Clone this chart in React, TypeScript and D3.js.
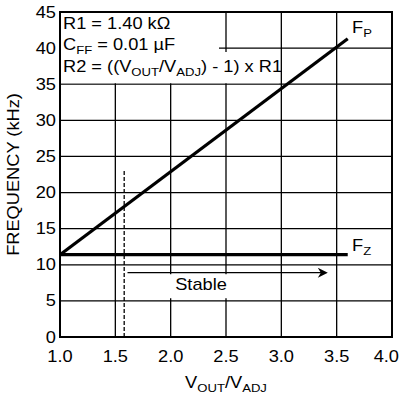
import * as d3 from "d3";
import type { ReactNode } from "react";

// Axis ticks
const xTicks = [1.0, 1.5, 2.0, 2.5, 3.0, 3.5, 4.0];
const yTicks = [0, 5, 10, 15, 20, 25, 30, 35, 40, 45];

// Series: pole and zero frequency vs VOUT/VADJ
const fpRatio = [1.0, 3.6];
const fpFreq = [11.4, 41.3];
const fzRatio = [1.0, 3.6];
const fzFreq = [11.4, 11.4];

// Stability limit and arrow
const stableLimit = 1.58;
const stableLimitTop = 23;
const stableArrow = { from: 1.61, to: 3.42, at: 8.9 };

const W = 400;
const H = 400;
const m = { top: 12, right: 8, bottom: 63, left: 60 };
const font = "Liberation Sans, Arial, sans-serif";
const stretch = 1.14; // the reference type is a bit wider than Arial

// text with the horizontal stretch applied
function T(props: {
  x: number;
  y: number;
  anchor?: string;
  size?: number;
  rotate?: number;
  children: ReactNode;
}) {
  const { x, y, anchor = "start", size = 16, rotate = 0, children } = props;
  return (
    <text
      transform={`translate(${x},${y}) rotate(${rotate}) scale(${stretch},1)`}
      textAnchor={anchor}
      fontSize={size}
      fill="#000"
    >
      {children}
    </text>
  );
}

// subscript, optionally followed by normal text back on the baseline
const Sub = ({ s, after }: { s: string; after?: string }) => (
  <>
    <tspan fontSize={11.5} dy={4}>
      {s}
    </tspan>
    {after ? <tspan dy={-4}>{after}</tspan> : null}
  </>
);

export default function App() {
  const x = d3.scaleLinear().domain([1, 4]).range([m.left, W - m.right]);
  const y = d3.scaleLinear().domain([0, 45]).range([H - m.bottom, m.top]);

  const line = d3
    .line<[number, number]>()
    .x((d) => x(d[0]))
    .y((d) => y(d[1]));

  const fp = fpRatio.map((r, i) => [r, fpFreq[i]] as [number, number]);
  const fz = fzRatio.map((r, i) => [r, fzFreq[i]] as [number, number]);

  const ax = x(stableArrow.to);
  const ay = y(stableArrow.at);

  return (
    <div style={{ position: "fixed", left: 0, top: 0 }}>
      <svg width={W} height={H} style={{ display: "block", background: "#fff" }} fontFamily={font}>
        {/* grid */}
        <g stroke="#000" strokeWidth={1.3}>
          {xTicks.slice(1, -1).map((t) => (
            <line key={"gx" + t} x1={x(t)} x2={x(t)} y1={y(0)} y2={y(45)} />
          ))}
          {yTicks.slice(1, -1).map((t) => (
            <line key={"gy" + t} x1={x(1)} x2={x(4)} y1={y(t)} y2={y(t)} />
          ))}
        </g>

        {/* white backgrounds for the annotations */}
        <rect x={x(1)} y={y(45)} width={219 - x(1)} height={52 - y(45)} fill="#fff" />
        <rect x={x(1)} y={52} width={279 - x(1)} height={y(35) - 1 - 52} fill="#fff" />
        <rect x={165} y={ay + 1.5} width={70} height={24} fill="#fff" />

        {/* legend text */}
        <T x={63} y={29}>R1 = 1.40 kΩ</T>
        <T x={63} y={50}>
          C<Sub s="FF" after=" = 0.01 µF" />
        </T>
        <T x={63} y={72}>
          R2 = ((V<Sub s="OUT" after="/V" />
          <Sub s="ADJ" after=") - 1) x R1" />
        </T>

        {/* stability limit */}
        <line
          x1={x(stableLimit)}
          x2={x(stableLimit)}
          y1={y(0)}
          y2={y(stableLimitTop)}
          stroke="#000"
          strokeWidth={1.3}
          strokeDasharray="4,2"
        />
        <line x1={x(stableArrow.from)} x2={ax - 4} y1={ay} y2={ay} stroke="#000" strokeWidth={1.3} />
        <path d={`M${ax},${ay} L${ax - 10},${ay - 5} L${ax - 7},${ay} L${ax - 10},${ay + 5} Z`} fill="#000" />
        <T x={201} y={ay + 17} anchor="middle">
          Stable
        </T>

        {/* series */}
        <path d={line(fp)!} fill="none" stroke="#000" strokeWidth={3.2} />
        <path d={line(fz)!} fill="none" stroke="#000" strokeWidth={3.2} />
        <T x={352} y={y(41.3) - 6}>
          F<Sub s="P" />
        </T>
        <T x={352} y={y(11.4) - 4}>
          F<Sub s="Z" />
        </T>

        {/* frame */}
        <rect
          x={x(1)}
          y={y(45)}
          width={x(4) - x(1)}
          height={y(0) - y(45)}
          fill="none"
          stroke="#000"
          strokeWidth={2}
        />

        {/* tick labels */}
        {yTicks.map((t) => (
          <T key={"ty" + t} x={56} y={y(t) + 5.5} anchor="end">
            {t}
          </T>
        ))}
        {xTicks.map((t, i) => {
          const last = i === xTicks.length - 1;
          return (
            <T key={"tx" + t} x={last ? 399 : x(t)} y={362} anchor={last ? "end" : "middle"}>
              {d3.format(".1f")(t)}
            </T>
          );
        })}

        {/* axis titles */}
        <T x={18.5} y={(y(0) + y(45)) / 2} rotate={-90} anchor="middle">
          FREQUENCY (kHz)
        </T>
        <T x={(x(1) + x(4)) / 2} y={388} anchor="middle">
          V<Sub s="OUT" after="/V" />
          <Sub s="ADJ" />
        </T>
      </svg>
    </div>
  );
}
